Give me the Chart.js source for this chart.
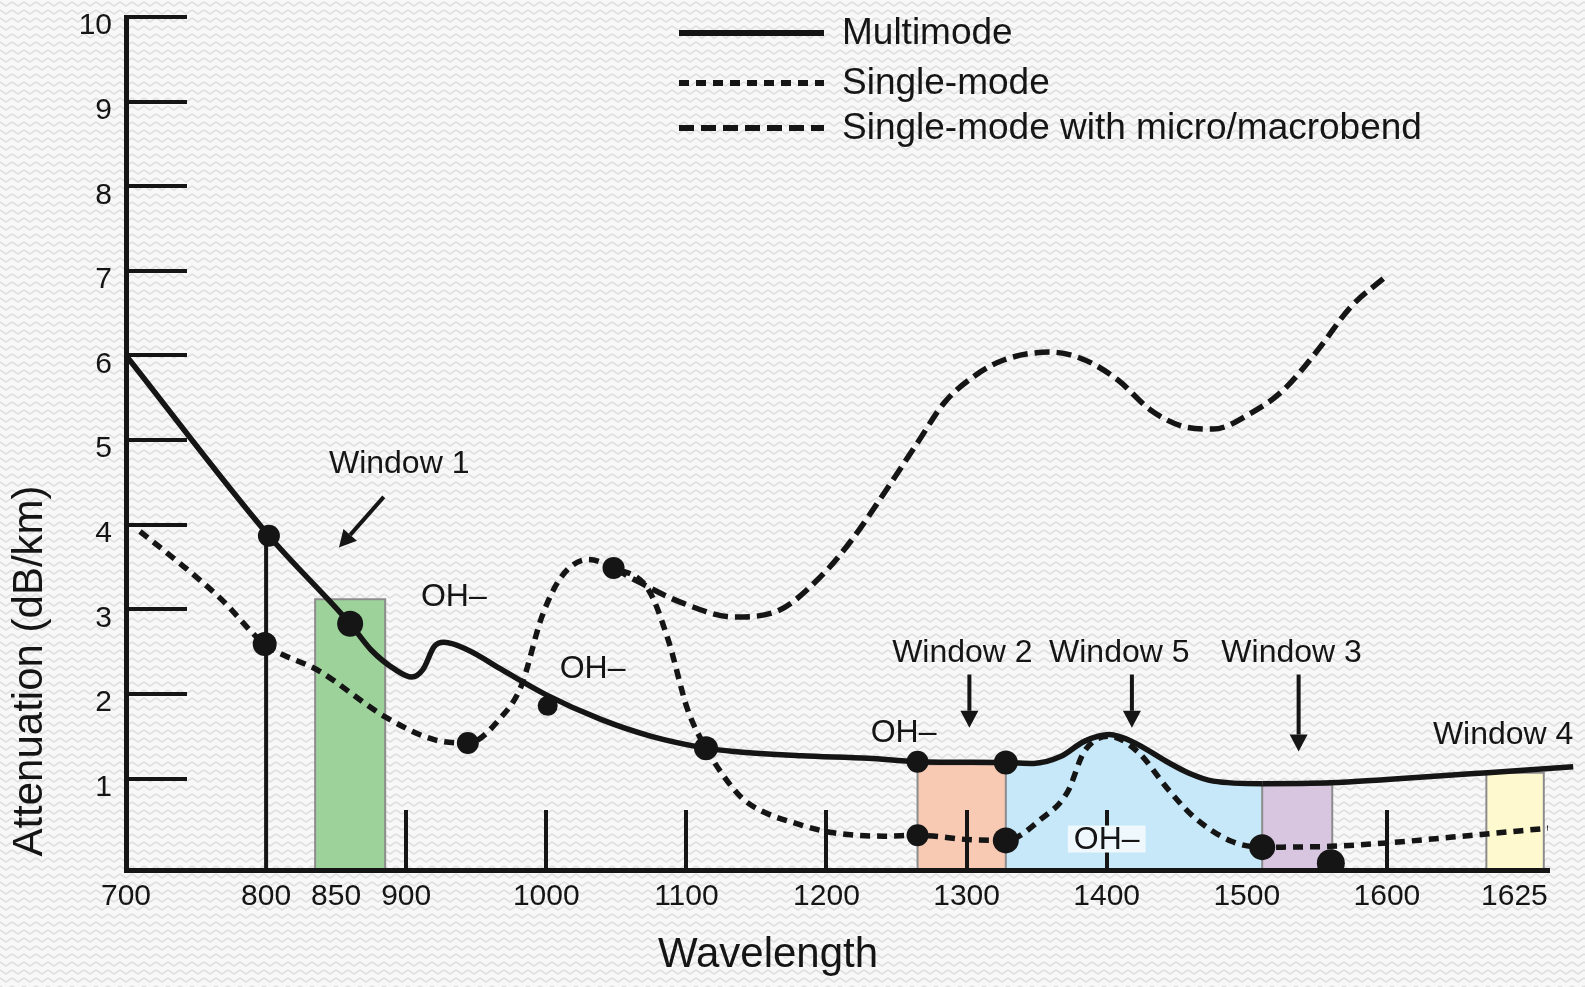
<!DOCTYPE html>
<html>
<head>
<meta charset="utf-8">
<script src="https://cdn.jsdelivr.net/npm/chart.js@4/dist/chart.umd.min.js"></script>
<style>
  html, body { margin: 0; padding: 0; }
  body {
    width: 1585px; height: 987px; overflow: hidden;
    background-color: #f8f8f8;
    background-image: url("data:image/svg+xml;utf8,<svg xmlns='http://www.w3.org/2000/svg' width='12' height='8'><path d='M0 2 L6 6 L12 2' stroke='%23e0e0e0' stroke-width='1.6' fill='none'/></svg>");
  }
  canvas { display: block; }
</style>
</head>
<body>
<canvas id="myChart" width="1585" height="987"></canvas>
<script>
// wavelength (nm) / attenuation (dB/km)
const MM_X = [700, 802, 860, 875, 892, 904, 912, 920, 927, 944, 968, 1000, 1039, 1075, 1114, 1134, 1182, 1230, 1265, 1328, 1348, 1367, 1384, 1402, 1419, 1444, 1458, 1476, 1511, 1560, 1600, 1672, 1733];
const MM_Y = [6.0, 3.87, 2.83, 2.52, 2.29, 2.20, 2.29, 2.56, 2.61, 2.52, 2.29, 1.99, 1.70, 1.50, 1.36, 1.32, 1.27, 1.24, 1.20, 1.19, 1.18, 1.26, 1.44, 1.52, 1.43, 1.19, 1.07, 0.97, 0.94, 0.95, 0.99, 1.07, 1.14];

const SM_X = [710, 738, 768, 799, 838, 885, 920, 944, 968, 982, 997, 1011, 1030, 1048, 1073, 1087, 1101, 1114, 1134, 1145, 1182, 1205, 1241, 1265, 1301, 1328, 1353, 1372, 1384, 1402, 1422, 1444, 1462, 1489, 1511, 1560, 1600, 1667, 1719];
const SM_Y = [3.92, 3.55, 3.12, 2.59, 2.27, 1.73, 1.46, 1.42, 1.73, 2.09, 2.92, 3.39, 3.59, 3.49, 3.23, 2.64, 1.81, 1.36, 0.87, 0.70, 0.45, 0.36, 0.32, 0.33, 0.28, 0.27, 0.52, 0.84, 1.32, 1.50, 1.32, 0.87, 0.55, 0.26, 0.19, 0.20, 0.24, 0.34, 0.42];

const BEND_X = [1048, 1063, 1098, 1134, 1165, 1196, 1218, 1241, 1265, 1284, 1305, 1327, 1360, 1384, 1408, 1431, 1455, 1476, 1503, 1526, 1551, 1574, 1599];
const BEND_Y = [3.49, 3.35, 3.07, 2.91, 2.98, 3.39, 3.82, 4.37, 4.97, 5.44, 5.75, 5.95, 6.04, 5.95, 5.71, 5.36, 5.16, 5.13, 5.32, 5.59, 6.07, 6.57, 6.93];

// highlighted points
const DOT_X = [802, 799, 860, 944, 1001, 1048, 1114, 1265, 1328, 1265, 1328, 1511, 1560];
const DOT_Y = [3.87, 2.59, 2.83, 1.42, 1.86, 3.49, 1.36, 1.20, 1.19, 0.33, 0.27, 0.19, 0.0];
const DOT_R = [11, 12, 13, 11, 10, 11, 12, 11, 12, 11, 13, 13, 14];

// transmission windows: start, end, top
const WIN_NAMES = ['Window 1', 'Window 2', 'Window 3', 'Window 4'];
const WIN_START = [835, 1265, 1511, 1671];
const WIN_END = [885, 1328, 1561, 1712];
const WIN_TOP = [3.12, 1.17, 0.93, 1.07];
const WIN5_START = 1328, WIN5_END = 1511;

const X_TICK_POS = [700, 800, 850, 900, 1000, 1100, 1200, 1300, 1400, 1500, 1600, 1691];
const X_TICK_LABELS = ['700', '800', '850', '900', '1000', '1100', '1200', '1300', '1400', '1500', '1600', '1625'];
const X_MARKS = [900, 1000, 1100, 1200, 1300, 1400, 1600];
const Y_TICKS = [1, 2, 3, 4, 5, 6, 7, 8, 9, 10];
const DROP_X = 800, DROP_TOP = 3.87;

const X_MIN = 700, X_MAX = 1715, Y_FLOOR = -0.08, Y_MAX = 10;

const FONT = '"Liberation Sans", Arial, Helvetica, sans-serif';
const INK = '#151515';
const WIN_COLORS = ['#9dd39b', '#f8c9b3', '#d8c6e0', '#fff9cf'];
const WIN5_COLOR = '#c6e8f8';

function pts(xs, ys) { return xs.map((x, i) => ({x: x, y: ys[i]})); }

var datasets = [
  {
    label: 'Highlighted', data: pts(DOT_X, DOT_Y), showLine: false,
    pointRadius: DOT_R, pointBackgroundColor: INK, pointBorderWidth: 0, borderWidth: 0, order: 0
  },
  {
    label: 'Multimode', data: pts(MM_X, MM_Y), borderColor: INK, borderWidth: 5.5,
    pointRadius: 0, cubicInterpolationMode: 'monotone', tension: 0.4, clip: false,
    fill: 'start', backgroundColor: 'rgba(0,0,0,0)',
    segment: {
      backgroundColor: c => (c.p0.parsed.x >= WIN5_START && c.p1.parsed.x <= WIN5_END) ? WIN5_COLOR : undefined
    },
    order: 1
  },
  {
    label: 'Single-mode', data: pts(SM_X, SM_Y), borderColor: INK, borderWidth: 5.5,
    borderDash: [10, 7], pointRadius: 0, cubicInterpolationMode: 'monotone', tension: 0.4, order: 2
  },
  {
    label: 'Single-mode with micro/macrobend', data: pts(BEND_X, BEND_Y), borderColor: INK, borderWidth: 5.5,
    borderDash: [15, 7], pointRadius: 0, cubicInterpolationMode: 'monotone', tension: 0.4, order: 3
  },
  {
    label: 'drop', data: [{x: DROP_X, y: Y_FLOOR}, {x: DROP_X, y: DROP_TOP}],
    borderColor: INK, borderWidth: 4, pointRadius: 0, order: 4
  }
];

WIN_NAMES.forEach(function (name, i) {
  datasets.push({
    label: name,
    data: [{x: WIN_START[i], y: Y_FLOOR}, {x: WIN_START[i], y: WIN_TOP[i]}, {x: WIN_END[i], y: WIN_TOP[i]}, {x: WIN_END[i], y: Y_FLOOR}],
    borderColor: '#8c8c8c', borderWidth: 2, backgroundColor: WIN_COLORS[i],
    fill: 'start', pointRadius: 0, tension: 0, order: 10 + i
  });
});

// text labels and arrows, placed in data units
const NOTES = [
  {text: 'Window 1', x: 895, y: 4.73},
  {text: 'OH\u2013', x: 934, y: 3.15},
  {text: 'OH\u2013', x: 1033, y: 2.30},
  {text: 'Window 2', x: 1297, y: 2.49},
  {text: 'Window 5', x: 1409, y: 2.49},
  {text: 'Window 3', x: 1532, y: 2.49},
  {text: 'Window 4', x: 1683, y: 1.52},
  {text: 'OH\u2013', x: 1255, y: 1.55},
  {text: 'OH\u2013', x: 1400, y: 0.28, box: true}
];
const ARROWS = [
  [884, 4.33, 852, 3.73],
  [1302, 2.23, 1302, 1.60],
  [1418, 2.23, 1418, 1.60],
  [1537, 2.23, 1537, 1.32]
];

function drawArrow(ctx, x0, y0, x1, y1) {
  var a = Math.atan2(y1 - y0, x1 - x0), hl = 17, hw = 9;
  var bx = x1 - hl * Math.cos(a), by = y1 - hl * Math.sin(a);
  ctx.beginPath();
  ctx.moveTo(x0, y0);
  ctx.lineTo(bx, by);
  ctx.lineWidth = 4;
  ctx.stroke();
  ctx.beginPath();
  ctx.moveTo(x1, y1);
  ctx.lineTo(bx + hw * Math.sin(a), by - hw * Math.cos(a));
  ctx.lineTo(bx - hw * Math.sin(a), by + hw * Math.cos(a));
  ctx.closePath();
  ctx.fill();
}

const annotations = {
  id: 'annotations',
  afterDraw: function (chart) {
    var ctx = chart.ctx, xs = chart.scales.x, ys = chart.scales.y;
    ctx.save();
    ctx.fillStyle = INK;
    ctx.strokeStyle = INK;

    // legend
    var rows = [33, 83, 128];
    [1, 2, 3].forEach(function (di, i) {
      var ds = chart.data.datasets[di];
      ctx.save();
      ctx.setLineDash(ds.borderDash || []);
      ctx.lineWidth = 6;
      ctx.beginPath();
      ctx.moveTo(679, rows[i]);
      ctx.lineTo(824, rows[i]);
      ctx.stroke();
      ctx.restore();
      ctx.font = '37px ' + FONT;
      ctx.textAlign = 'left';
      ctx.textBaseline = 'middle';
      ctx.fillText(ds.label, 842, rows[i] + 1);
    });

    // notes
    ctx.font = '32px ' + FONT;
    ctx.textAlign = 'center';
    ctx.textBaseline = 'middle';
    NOTES.forEach(function (n) {
      var px = xs.getPixelForValue(n.x), py = ys.getPixelForValue(n.y);
      if (n.box) {
        var w = ctx.measureText(n.text).width;
        ctx.fillStyle = '#eef8fd';
        ctx.fillRect(px - w / 2 - 6, py - 14, w + 12, 27);
        ctx.fillStyle = INK;
      }
      ctx.fillText(n.text, px, py + 1);
    });

    ARROWS.forEach(function (a) {
      drawArrow(ctx, xs.getPixelForValue(a[0]), ys.getPixelForValue(a[1]),
                xs.getPixelForValue(a[2]), ys.getPixelForValue(a[3]));
    });

    // axis titles
    ctx.font = '42px ' + FONT;
    ctx.fillText('Wavelength', 768, 955);
    ctx.translate(30, 671);
    ctx.rotate(-Math.PI / 2);
    ctx.fillText('Attenuation (dB/km)', 0, 0);
    ctx.restore();
  }
};

function noPad(s) {
  s.paddingTop = 0; s.paddingBottom = 0; s.paddingLeft = 0; s.paddingRight = 0;
}

var ctx = document.getElementById('myChart').getContext('2d');
var chart = new Chart(ctx, {
  type: 'line',
  data: { datasets: datasets },
  options: {
    responsive: false,
    animation: false,
    devicePixelRatio: 1,
    events: [],
    layout: { padding: { top: 17, right: 37, left: 0, bottom: 0 } },
    plugins: {
      legend: { display: false },
      tooltip: { enabled: false },
      filler: { drawTime: 'beforeDatasetsDraw' }
    },
    scales: {
      x: {
        type: 'linear', min: X_MIN, max: X_MAX,
        afterBuildTicks: function (s) { s.ticks = X_TICK_POS.map(function (v) { return {value: v}; }); },
        afterFit: function (s) { s.height = 117; noPad(s); },
        ticks: {
          autoSkip: false, maxRotation: 0, padding: 72, color: INK,
          font: { size: 30, family: FONT, lineHeight: 1 },
          callback: function (v, i) { return X_TICK_LABELS[i]; }
        },
        grid: {
          drawOnChartArea: false, tickLength: -60, lineWidth: 4, z: 1,
          color: function (c) { return (c.tick && X_MARKS.indexOf(c.tick.value) >= 0) ? INK : 'rgba(0,0,0,0)'; }
        },
        border: { color: INK, width: 5, z: 1 }
      },
      y: {
        type: 'linear', min: Y_FLOOR, max: Y_MAX,
        afterBuildTicks: function (s) { s.ticks = Y_TICKS.map(function (v) { return {value: v}; }); },
        afterFit: function (s) { s.width = 126; noPad(s); },
        ticks: {
          padding: 75, labelOffset: 9, color: INK,
          font: { size: 30, family: FONT, lineHeight: 1 }
        },
        grid: { drawOnChartArea: false, tickLength: -61, lineWidth: 4, color: INK, z: 1 },
        border: { color: INK, width: 5, z: 1 }
      }
    }
  },
  plugins: [annotations]
});
</script>
</body>
</html>
